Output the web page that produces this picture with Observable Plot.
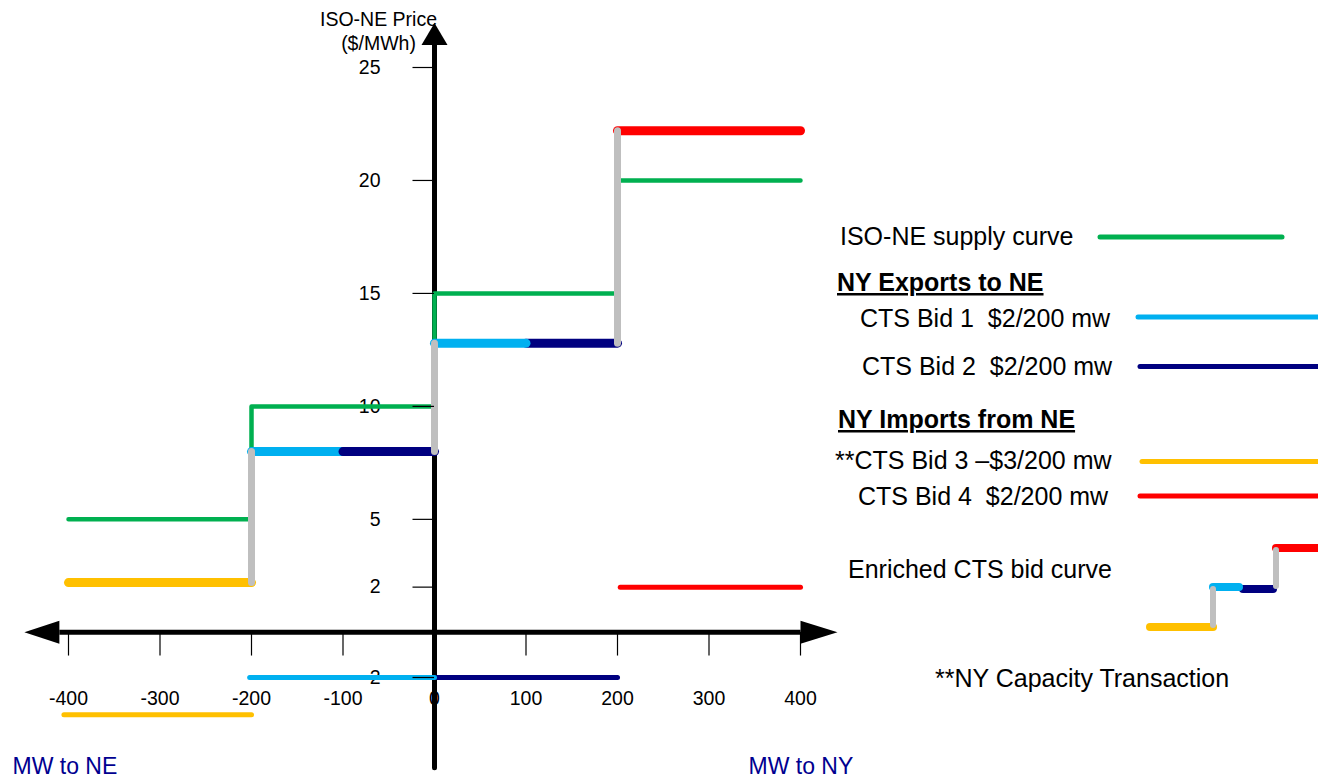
<!DOCTYPE html>
<html>
<head>
<meta charset="utf-8">
<script src="https://cdn.jsdelivr.net/npm/d3@7"></script>
<script src="https://cdn.jsdelivr.net/npm/@observablehq/plot@0.6"></script>
<style>
  html, body { margin: 0; padding: 0; background: #fff; }
  #wrap { position: relative; width: 1318px; height: 779px; overflow: hidden; font-family: "Liberation Sans", Arial, sans-serif; }
  #chart { position: absolute; left: 0; top: 0; }
</style>
</head>
<body>
<div id="wrap"><div id="chart"></div></div>
<script>
// ---------- data ----------
const xTicks = [-400, -300, -200, -100, 0, 100, 200, 300, 400];
const yTicks = [25, 20, 15, 10, 5, 2, -2];

// ISO-NE supply curve (step-after)
const supplyMW = [-400, -200, 0, 200, 400];
const supplyPrice = [5, 10, 15, 20, 20];

// Enriched CTS bid curve: horizontal pieces
const enrichedBid = ["Bid 3", "Bid 1", "Bid 2", "Bid 2", "Bid 1", "Bid 4"];
const enrichedMW1 = [-400, -200, -100, 100, 0, 200];
const enrichedMW2 = [-200, -100, 0, 200, 100, 400];
const enrichedPrice = [2.2, 8, 8, 12.8, 12.8, 22.2];

// Enriched curve risers (grey)
const riserMW = [-200, 0, 200];
const riserFrom = [2.2, 8, 12.8];
const riserTo = [8, 12.8, 22.2];

// CTS bids themselves (thin)
const bidName = ["Bid 3", "Bid 2", "Bid 1", "Bid 4"];
const bidMW1 = [-405, 0, -202, 203];
const bidMW2 = [-200, 200, 0, 400];
const bidPrice = [-3.65, -2, -2, 2];

const bidDomain = ["Bid 1", "Bid 2", "Bid 3", "Bid 4"];
const bidColors = ["#00b0f0", "#000080", "#ffc000", "#ff0000"];
const supplyColor = "#00b050";
const riserColor = "#bfbfbf";

// ---------- tables ----------
const supply = supplyMW.map((x, i) => ({x, y: supplyPrice[i]}));
const enriched = enrichedBid.map((b, i) => ({bid: b, x1: enrichedMW1[i], x2: enrichedMW2[i], y: enrichedPrice[i]}));
const risers = riserMW.map((x, i) => ({x, y1: riserFrom[i], y2: riserTo[i]}));
const bids = bidName.map((b, i) => ({bid: b, x1: bidMW1[i], x2: bidMW2[i], y: bidPrice[i]}));

function arrowMarker(len, half) {
  return (color) => {
    const m = d3.create("svg:marker")
      .attr("viewBox", `0 ${-half} ${len} ${2 * half}`)
      .attr("markerUnits", "userSpaceOnUse")
      .attr("markerWidth", len)
      .attr("markerHeight", 2 * half)
      .attr("refX", 0).attr("refY", 0)
      .attr("orient", "auto-start-reverse")
      .attr("overflow", "visible");
    m.append("path").attr("d", `M0,${-half}L${len},0L0,${half}Z`).attr("fill", color).attr("stroke", "none");
    return m.node();
  };
}

const chart = Plot.plot({
  width: 870,
  height: 779,
  marginLeft: 68,
  marginRight: 70,
  marginTop: 67,
  marginBottom: 102,
  x: {domain: [-400, 400], axis: null},
  y: {domain: [-2, 25], axis: null},
  color: {domain: bidDomain, range: bidColors},
  style: {fontFamily: "'Liberation Sans', Arial, sans-serif", background: "white", color: "black", overflow: "visible"},
  marks: [
    // tick labels
    Plot.text(xTicks, {x: d => d, text: d => String(d), frameAnchor: "bottom", lineAnchor: "middle", dy: 21, fontSize: 19.5, fill: "black"}),
    Plot.text(yTicks, {x: 0, y: d => d, text: d => String(d), dx: -54, textAnchor: "end", lineAnchor: "middle", fontSize: 19.5, fill: "black"}),
    // axis title
    Plot.text(["ISO-NE Price"], {x: 0, frameAnchor: "top", lineAnchor: "middle", dx: -56, dy: -48, fontSize: 19.5, fill: "black"}),
    Plot.text(["($/MWh)"], {x: 0, frameAnchor: "top", lineAnchor: "middle", dx: -56, dy: -24, fontSize: 19.5, fill: "black"}),
    Plot.text(["MW to NE"], {frameAnchor: "bottom-left", lineAnchor: "middle", dx: -56, dy: 89, textAnchor: "start", fontSize: 23, fill: "#000090"}),
    Plot.text(["MW to NY"], {frameAnchor: "bottom-right", lineAnchor: "middle", dx: -52, dy: 89, textAnchor: "start", fontSize: 23, fill: "#000090"}),
    // axes
    Plot.link([0], {x1: -410, x2: 400, y1: 0, y2: 0, stroke: "black", strokeWidth: 5, markerStart: arrowMarker(35, 11.5), markerEnd: arrowMarker(37, 11.5)}),
    Plot.link([0], {x1: 0, x2: 0, y1: -6, y2: 26, stroke: "black", strokeWidth: 5, strokeLinecap: "round", markerEnd: arrowMarker(22, 13)}),
    // supply curve
    Plot.line(supply, {x: "x", y: "y", curve: "step-after", stroke: supplyColor, strokeWidth: 4.5, strokeLinecap: "round"}),
    // thin CTS bids
    Plot.link(bids, {x1: "x1", x2: "x2", y1: "y", y2: "y", stroke: "bid", strokeWidth: 5, strokeLinecap: "round"}),
    // enriched curve
    Plot.link(enriched, {x1: "x1", x2: "x2", y1: "y", y2: "y", stroke: "bid", strokeWidth: 9, strokeLinecap: "round"}),
    Plot.link(risers, {x1: "x", x2: "x", y1: "y1", y2: "y2", stroke: riserColor, strokeWidth: 7, strokeLinecap: "round"}),
    // tick marks
    Plot.ruleX(xTicks, {x: d => d, y1: 0, y2: -1.05, stroke: "black", strokeWidth: 1.2}),
    Plot.ruleY(yTicks, {y: d => d, x1: -23.5, x2: 0, stroke: "black", strokeWidth: 1.2})
  ]
});
document.getElementById("chart").appendChild(chart);

// ---------- legend ----------
const OX = 825, OY = 200;
const lg = d3.select("#wrap").append("svg")
  .attr("width", 1318 - OX).attr("height", 520)
  .style("position", "absolute").style("left", OX + "px").style("top", OY + "px")
  .style("font-family", "'Liberation Sans', Arial, sans-serif");

function ltext(str, x, y, bold) {
  lg.append("text").attr("x", x - OX).attr("y", y - OY)
    .attr("font-size", 25).attr("fill", "black")
    .attr("font-weight", bold ? "bold" : null)
    .attr("text-decoration", bold ? "underline" : null)
    .style("white-space", "pre").text(str);
}
function lline(x1, y1, x2, y2, color, w) {
  lg.append("line").attr("x1", x1 - OX).attr("y1", y1 - OY).attr("x2", x2 - OX).attr("y2", y2 - OY)
    .attr("stroke", color).attr("stroke-width", w).attr("stroke-linecap", "round");
}

ltext("ISO-NE supply curve", 840, 245);
lline(1100, 237, 1282, 237, supplyColor, 5);
ltext("NY Exports to NE", 837, 291, true);
ltext("CTS Bid 1  $2/200 mw", 860, 327);
lline(1138, 317, 1322, 317, bidColors[0], 5);
ltext("CTS Bid 2  $2/200 mw", 862, 375);
lline(1140, 366.5, 1322, 366.5, bidColors[1], 5);
ltext("NY Imports from NE", 838, 428, true);
ltext("**CTS Bid 3 \u2013$3/200 mw", 835, 469);
lline(1142, 461.5, 1322, 461.5, bidColors[2], 5);
ltext("CTS Bid 4  $2/200 mw", 858, 505);
lline(1140, 496, 1322, 496, bidColors[3], 5);
ltext("Enriched CTS bid curve", 848, 578);
// mini enriched curve glyph
lline(1150, 627, 1213, 627, bidColors[2], 8);
lline(1243, 589, 1273, 589, bidColors[1], 8);
lline(1213, 587, 1239, 587, bidColors[0], 8);
lline(1276, 548, 1322, 548, bidColors[3], 8);
lline(1213, 589, 1213, 625, riserColor, 6);
lline(1276, 550, 1276, 586, riserColor, 6);
ltext("**NY Capacity Transaction", 935, 687);
</script>
</body>
</html>
